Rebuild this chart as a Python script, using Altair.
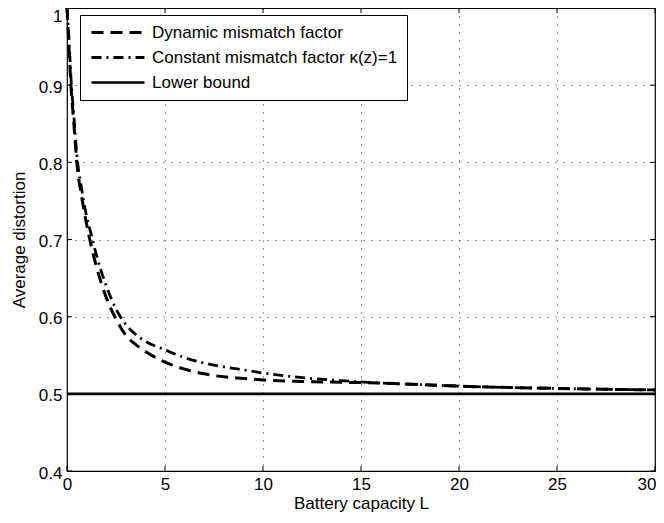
import altair as alt
import pandas as pd

# ---- data ----
L_vals = [0, 0.1, 0.2, 0.35, 0.5, 0.75, 1, 1.25, 1.5, 2, 2.5, 3, 3.5, 4, 5, 6, 7, 8, 9, 10,
          12, 14, 16, 18, 20, 25, 30]
dynamic = [1.0, 0.95, 0.90, 0.85, 0.80, 0.755, 0.72, 0.69, 0.665, 0.625, 0.597, 0.576, 0.564,
           0.555, 0.541, 0.532, 0.526, 0.522, 0.520, 0.518, 0.516, 0.515, 0.514, 0.512, 0.510,
           0.507, 0.505]
constant = [1.0, 0.96, 0.91, 0.86, 0.81, 0.765, 0.73, 0.705, 0.68, 0.64, 0.61, 0.59, 0.577,
            0.568, 0.557, 0.547, 0.540, 0.535, 0.531, 0.527, 0.521, 0.517, 0.514, 0.512, 0.510,
            0.507, 0.505]
bound_L = [0, 30]
bound = [0.5, 0.5]
series = ["Dynamic mismatch factor", "Constant mismatch factor \u03ba(z)=1", "Lower bound"]
x_ticks = [0, 5, 10, 15, 20, 25, 30]
y_ticks = [0.4, 0.5, 0.6, 0.7, 0.8, 0.9, 1.0]

rows = []
for l, v in zip(L_vals, dynamic):
    rows.append({"series": series[0], "L": l, "value": v})
for l, v in zip(L_vals, constant):
    rows.append({"series": series[1], "L": l, "value": v})
for l, v in zip(bound_L, bound):
    rows.append({"series": series[2], "L": l, "value": v})
df = pd.DataFrame(rows)

W, H = 588, 463
FONT = "Liberation Sans"
FS = 17

xenc = alt.X("L:Q", scale=alt.Scale(domain=[0, 30], nice=False),
             axis=alt.Axis(values=x_ticks, title="Battery capacity L", format="~g",
                           grid=True, gridDash=[1, 7], gridColor="#000", gridOpacity=0.8,
                           ticks=False, domain=False, labelPadding=5, titlePadding=3,
                           labelAlign={"expr": "datum.value == 30 ? 'right' : 'center'"},
                           labelOffset={"expr": "datum.value == 30 ? 1 : 0"}))
yenc = alt.Y("value:Q", scale=alt.Scale(domain=[0.4, 1.0], nice=False, zero=False),
             axis=alt.Axis(values=y_ticks, title="Average distortion", format="~g",
                           grid=True, gridDash=[1, 7], gridColor="#000", gridOpacity=0.8,
                           ticks=False, domain=False, labelPadding=5, titlePadding=10,
                           labelBaseline={"expr": "datum.value == 1 ? 'top' : 'middle'"},
                           labelOffset={"expr": "datum.value == 1 ? 0 : 2"}))

lines = alt.Chart(df).mark_line(interpolate="monotone").encode(
    x=xenc,
    y=yenc,
    color=alt.Color("series:N", scale=alt.Scale(domain=series, range=["#000", "#000", "#000"]),
                    legend=alt.Legend(title=None, orient="none", legendX=13, legendY=7,
                                      strokeColor="#000", fillColor="#fff", padding=9,
                                      labelFont=FONT, labelFontSize=FS, labelColor="#000",
                                      symbolType="M-1,0H7.83", symbolSize=144,
                                      symbolStrokeWidth=3, rowPadding=7, labelOffset=46,
                                      labelLimit=400)),
    strokeDash=alt.StrokeDash("series:N", scale=alt.Scale(domain=series,
                              range=[[12, 7], [10, 5, 2, 5], [1, 0]]), legend=None),
    strokeWidth=alt.StrokeWidth("series:N", scale=alt.Scale(domain=series, range=[3, 2.6, 3]),
                                legend=None),
)

xt = pd.DataFrame({"L": x_ticks})
yt = pd.DataFrame({"value": y_ticks})

xb = alt.Chart(xt).mark_rule(color="#000").encode(x=xenc, y=alt.value(H), y2=alt.value(H - 5))
xtop = alt.Chart(xt).mark_rule(color="#000").encode(x=xenc, y=alt.value(0), y2=alt.value(5))
yl = alt.Chart(yt).mark_rule(color="#000").encode(y=yenc, x=alt.value(0), x2=alt.value(5))
yr = alt.Chart(yt).mark_rule(color="#000").encode(y=yenc, x=alt.value(W), x2=alt.value(W - 5))

chart = alt.layer(lines, xb, xtop, yl, yr).properties(
    width=W, height=H,
    background="#fff",
    autosize=alt.AutoSizeParams(type="none"),
    padding={"left": 59, "top": 0, "right": 1, "bottom": 44},
).configure_view(stroke="#000", strokeWidth=1.2).configure_axis(
    labelFont=FONT, labelFontSize=FS, labelColor="#000",
    titleFont=FONT, titleFontSize=FS, titleColor="#000", titleFontWeight="normal",
)

chart.save("out.html", embed_options={"renderer": "svg", "actions": False})
